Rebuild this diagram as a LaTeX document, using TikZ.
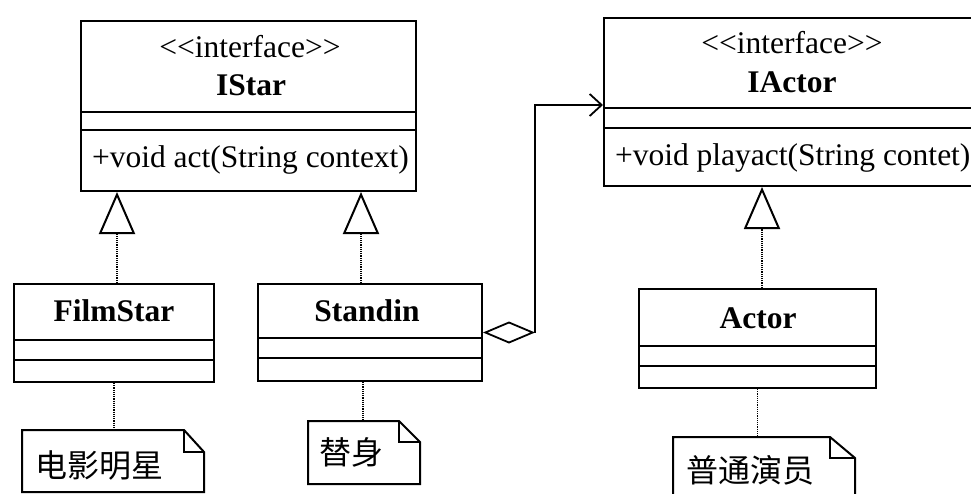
\documentclass[tikz,border=0pt]{standalone}
\usepackage{fontspec}
\setmainfont{Liberation Serif}
\newfontfamily\cjk{Noto Sans CJK SC}
\usetikzlibrary{arrows.meta}
\newcommand\stereo{<\kern0pt<interface>\kern0pt>}
\begin{document}
\begin{tikzpicture}[x=1pt,y=-1pt,line width=2pt,
  classbox/.style={draw,rectangle,inner sep=0pt,anchor=north west},
  notebox/.style={rectangle,inner sep=0pt,anchor=north west},
  txt/.style={inner sep=0pt,font=\fontsize{31.5}{34}\selectfont},
  ttl/.style={inner sep=0pt,font=\fontsize{31.5}{34}\selectfont\bfseries},
  cjktxt/.style={inner sep=0pt,font=\fontsize{32}{34}\selectfont\cjk},
  real/.style={densely dotted,line width=1.2pt},
  gen/.style={-{Triangle[open,length=42pt,width=36pt,line width=2pt]}},
  agg/.style={line width=1.8pt,{Diamond[open,length=52pt,width=22pt,line width=1.8pt]}-{Straight Barb[length=12pt,width=22pt,line width=1.8pt]}},
]
\useasboundingbox (0,0) rectangle (971,493);

% IStar
\node[classbox,minimum width=335pt,minimum height=170pt] (istar) at (80,20) {};
\draw (80,112) -- (415,112);
\draw (80,130) -- (415,130);
\node[txt] (istars) at (250,47) {\stereo};
\node[ttl] (istarn) at (251,85) {IStar};
\node[txt,anchor=west] (istaro) at (91,160) {+void act(String context)};

% IActor
\node[classbox,minimum width=374pt,minimum height=168pt] (iactor) at (603,17) {};
\draw (603,108) -- (977,108);
\draw (603,128) -- (977,128);
\node[txt] (iactors) at (792,43) {\stereo};
\node[ttl] (iactorn) at (792,82) {IActor};
\node[txt,anchor=west] (iactoro) at (614,158) {+void playact(String contet)};

% FilmStar
\node[classbox,minimum width=200pt,minimum height=98pt] (film) at (13,283) {};
\draw (13,340) -- (213,340);
\draw (13,360) -- (213,360);
\node[ttl] (filmn) at (114,311) {FilmStar};

% Standin
\node[classbox,minimum width=224pt,minimum height=97pt] (stand) at (257,283) {};
\draw (257,338) -- (481,338);
\draw (257,358) -- (481,358);
\node[ttl] (standn) at (367,311) {Standin};

% Actor
\node[classbox,minimum width=237pt,minimum height=99pt] (actor) at (638,288) {};
\draw (638,346) -- (875,346);
\draw (638,366) -- (875,366);
\node[ttl] (actorn) at (758,318) {Actor};

% Notes
\node[notebox,minimum width=180pt,minimum height=60pt] (n1) at (22,430) {};
\draw (n1.north west) -- ([xshift=-20pt]n1.north east) -- ([yshift=-22pt]n1.north east) -- (n1.south east) -- (n1.south west) -- cycle;
\draw ([xshift=-20pt]n1.north east) -- ([xshift=-20pt,yshift=-22pt]n1.north east) -- ([yshift=-22pt]n1.north east);
\node[cjktxt,anchor=west] (n1t) at (34,465) {电影明星};

\node[notebox,minimum width=110pt,minimum height=61pt] (n2) at (308,421) {};
\draw (n2.north west) -- ([xshift=-21pt]n2.north east) -- ([yshift=-21pt]n2.north east) -- (n2.south east) -- (n2.south west) -- cycle;
\draw ([xshift=-21pt]n2.north east) -- ([xshift=-21pt,yshift=-21pt]n2.north east) -- ([yshift=-21pt]n2.north east);
\node[cjktxt,anchor=west] (n2t) at (318,452) {替身};

\node[notebox,minimum width=180pt,minimum height=80pt] (n3) at (673,437) {};
\draw (n3.north west) -- ([xshift=-25pt]n3.north east) -- ([yshift=-21pt]n3.north east) -- (n3.south east) -- (n3.south west) -- cycle;
\draw ([xshift=-25pt]n3.north east) -- ([xshift=-25pt,yshift=-21pt]n3.north east) -- ([yshift=-21pt]n3.north east);
\node[cjktxt,anchor=west] (n3t) at (685,470) {普通演员};

% helper coordinates
\coordinate (g1) at (117,0);
\coordinate (g2) at (361,0);
\coordinate (g3) at (762,0);
\coordinate (s2) at (363,0);
\coordinate (bend) at (535,105);

% generalizations
\draw[real,gen] (film.north -| g1) -- (istar.south -| g1);
\draw[real,gen] (stand.north -| g2) -- (istar.south -| g2);
\draw[real,gen] (actor.north -| g3) -- (iactor.south -| g3);

% note links
\draw[real] (film.south) -- (film.south |- n1.north);
\draw[real] (stand.south -| s2) -- (n2.north -| s2);
\draw[real] (actor.south) -- (actor.south |- n3.north);

% aggregation
\draw[agg] (stand.east) -| (bend) -- (bend -| iactor.west);
\end{tikzpicture}
\end{document}
